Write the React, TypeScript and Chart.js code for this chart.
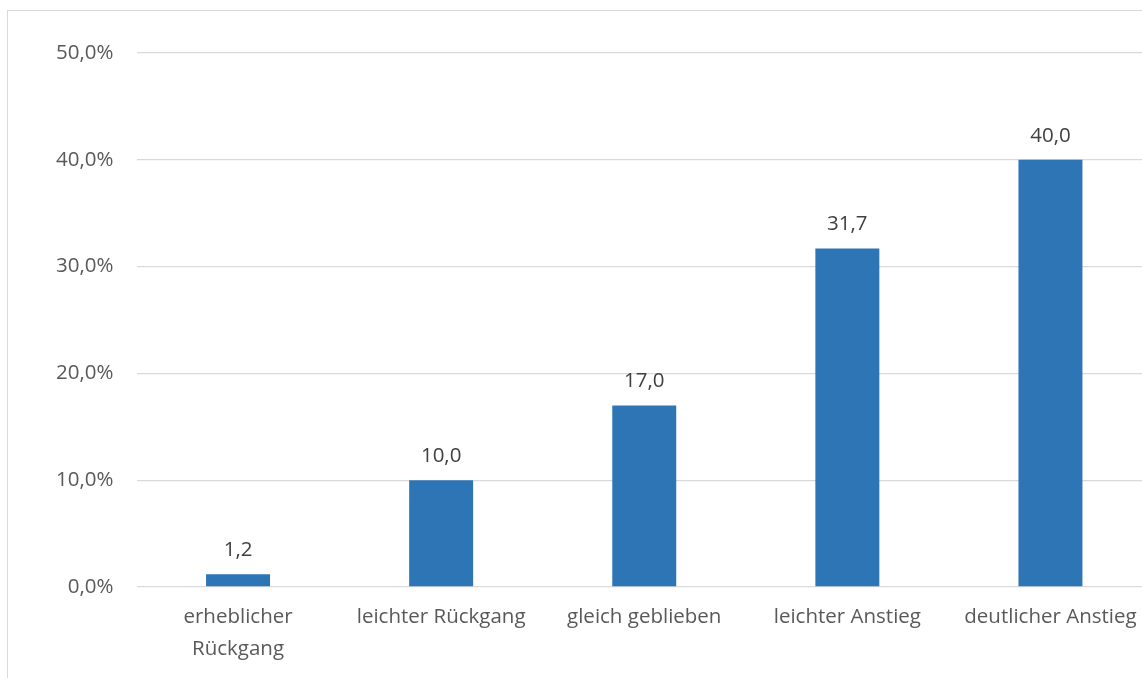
import React, { useEffect, useRef } from "react";
import { Chart, registerables } from "chart.js";

Chart.register(...registerables);

const categories: (string | string[])[] = [
  ["erheblicher", "Rückgang"],
  "leichter Rückgang",
  "gleich geblieben",
  "leichter Anstieg",
  "deutlicher Anstieg",
];
const values: number[] = [1.2, 10.0, 17.0, 31.7, 40.0];
const yTicks: number[] = [0, 10, 20, 30, 40, 50];

const FONT = "'Open Sans', 'Liberation Sans', sans-serif";
const TEXT = "#595959";
const GRID = "#d9d9d9";
const BAR = "#2e75b6";

const fmt = (v: number) => v.toFixed(1).replace(".", ",");

const valueLabels = {
  id: "valueLabels",
  afterDatasetsDraw(chart: any) {
    const ctx = chart.ctx;
    const meta = chart.getDatasetMeta(0);
    ctx.save();
    ctx.font = `20.5px ${FONT}`;
    ctx.fillStyle = "#404040";
    ctx.textAlign = "center";
    ctx.textBaseline = "middle";
    meta.data.forEach((el: any, i: number) => {
      ctx.fillText(fmt(values[i]), el.x, el.y - 24);
    });
    ctx.restore();
  },
};

export default function App() {
  const ref = useRef<HTMLCanvasElement | null>(null);
  useEffect(() => {
    if (!ref.current) return;
    const chart = new Chart(ref.current, {
      type: "bar",
      data: {
        labels: categories,
        datasets: [
          {
            data: values,
            backgroundColor: BAR,
            borderWidth: 0,
            barPercentage: 0.63,
            categoryPercentage: 0.5,
          },
        ],
      },
      options: {
        animation: false,
        responsive: false,
        maintainAspectRatio: false,
        layout: { padding: { top: 42, right: 16, left: 0, bottom: 0 } },
        plugins: { legend: { display: false }, tooltip: { enabled: false } },
        scales: {
          x: {
            grid: { display: false, drawTicks: false },
            border: { display: false },
            ticks: {
              color: TEXT,
              font: { family: FONT, size: 20.5, lineHeight: 1.52 },
              padding: 15,
              maxRotation: 0,
              autoSkip: false,
            },
            afterFit: (s: any) => {
              s.height = 91;
            },
          },
          y: {
            min: 0,
            max: 50,
            afterBuildTicks: (s: any) => {
              s.ticks = yTicks.map((v) => ({ value: v }));
            },
            grid: { color: GRID, lineWidth: 1.3, drawTicks: false },
            border: { display: false },
            ticks: {
              color: TEXT,
              font: { family: FONT, size: 20.5 },
              padding: 23,
              callback: (v: any) => fmt(Number(v)) + "%",
            },
            afterFit: (s: any) => {
              s.width = 128.5;
            },
          },
        },
      },
      plugins: [valueLabels],
    });
    return () => chart.destroy();
  }, []);

  return (
    <div
      style={{
        position: "absolute",
        left: 7,
        top: 10,
        width: 1135,
        height: 668,
        overflow: "hidden",
        borderLeft: `1.5px solid ${GRID}`,
        borderTop: `1.5px solid ${GRID}`,
        background: "#fff",
      }}
    >
      <canvas ref={ref} width={1160} height={667} style={{ display: "block" }} />
    </div>
  );
}
